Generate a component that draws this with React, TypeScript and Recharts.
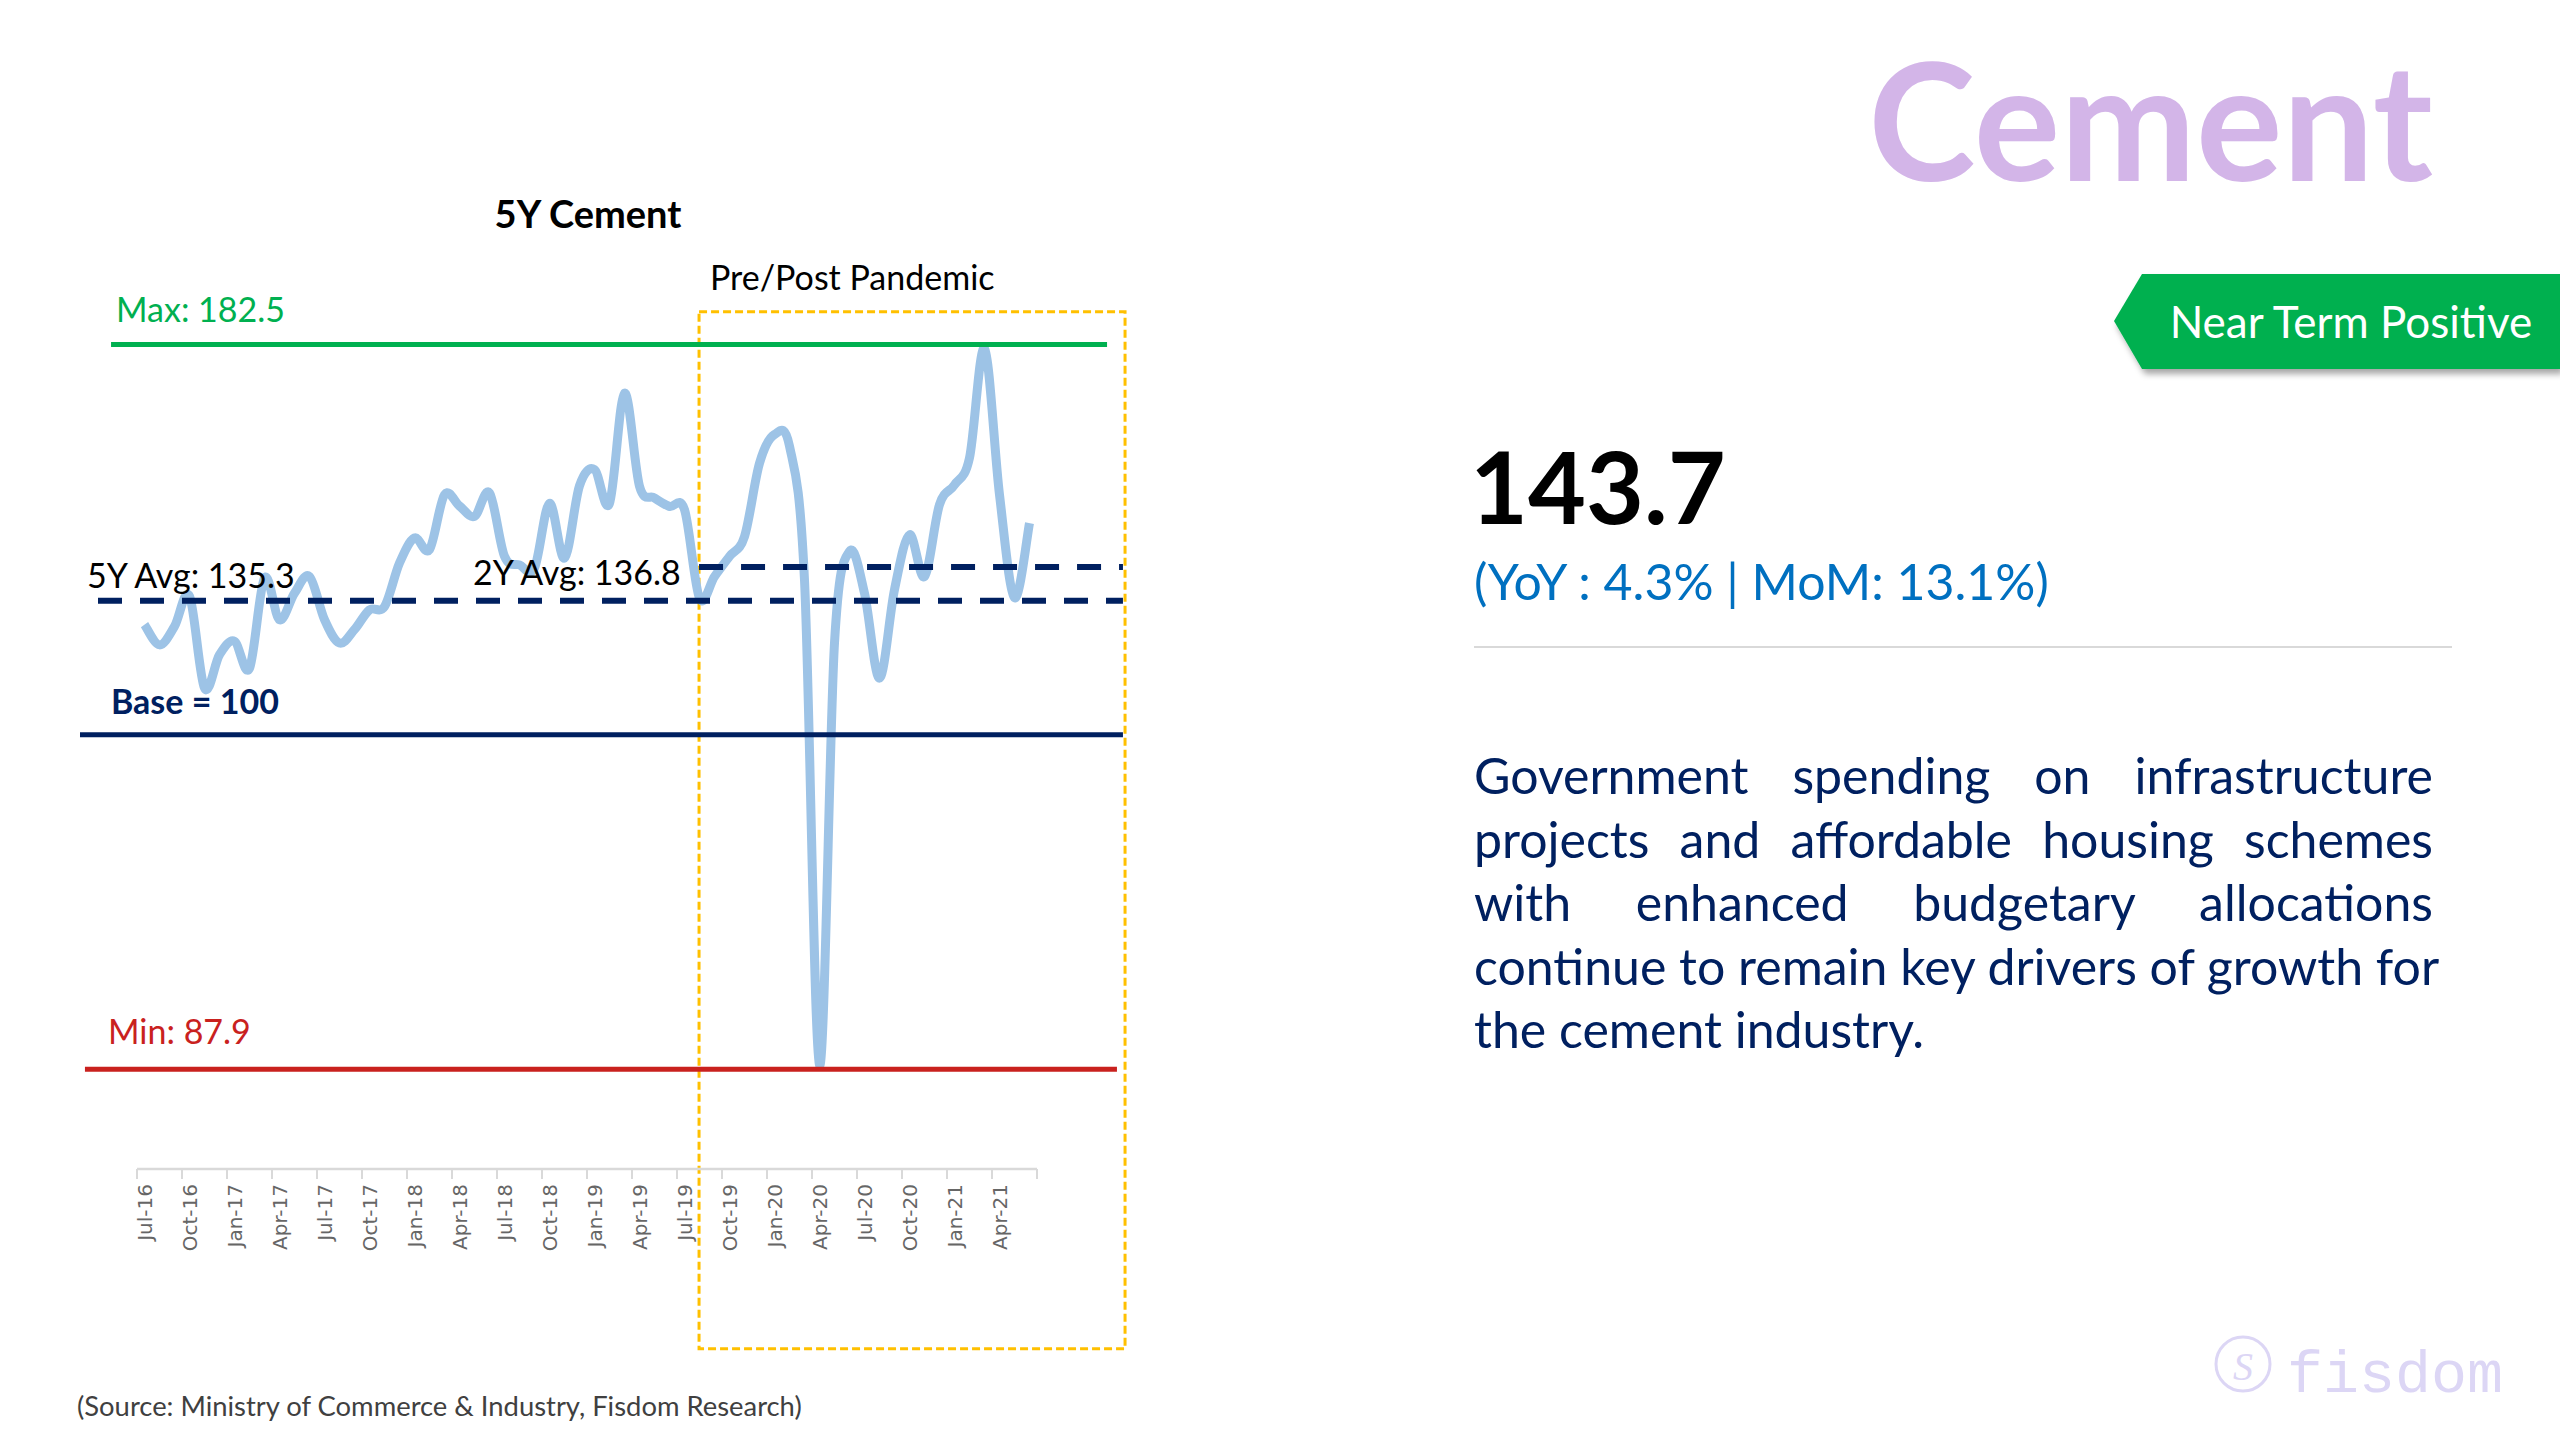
import React from "react";
import {
  LineChart,
  Line,
  XAxis,
  YAxis,
  ReferenceLine,
  ReferenceArea,
} from "recharts";

// monthly cement index (base 2011-12 = 100), Jul-16 .. Jun-21
const MONTHS = [
  "Jul-16", "Aug-16", "Sep-16", "Oct-16", "Nov-16", "Dec-16",
  "Jan-17", "Feb-17", "Mar-17", "Apr-17", "May-17", "Jun-17",
  "Jul-17", "Aug-17", "Sep-17", "Oct-17", "Nov-17", "Dec-17",
  "Jan-18", "Feb-18", "Mar-18", "Apr-18", "May-18", "Jun-18",
  "Jul-18", "Aug-18", "Sep-18", "Oct-18", "Nov-18", "Dec-18",
  "Jan-19", "Feb-19", "Mar-19", "Apr-19", "May-19", "Jun-19",
  "Jul-19", "Aug-19", "Sep-19", "Oct-19", "Nov-19", "Dec-19",
  "Jan-20", "Feb-20", "Mar-20", "Apr-20", "May-20", "Jun-20",
  "Jul-20", "Aug-20", "Sep-20", "Oct-20", "Nov-20", "Dec-20",
  "Jan-21", "Feb-21", "Mar-21", "Apr-21", "May-21", "Jun-21",
];

const CEMENT = [
  121.1, 116.6, 120.7, 127.4, 107.0, 114.4,
  117.4, 111.4, 131.5, 122.2, 128.1, 131.8,
  122.2, 117.0, 120.0, 124.4, 125.1, 134.8,
  140.4, 137.8, 150.0, 147.5, 145.2, 150.4,
  136.3, 134.4, 133.7, 148.1, 135.9, 152.0,
  155.6, 148.1, 172.6, 151.9, 149.3, 147.4,
  146.7, 127.0, 131.8, 136.3, 140.7, 157.0,
  163.4, 160.8, 131.0, 23.1, 117.0, 137.4,
  128.1, 109.2, 128.9, 141.1, 131.8, 147.8,
  152.2, 158.2, 182.5, 150.0, 127.1, 143.7,
];

const TICK_LABELS = [
  "Jul-16", "Oct-16", "Jan-17", "Apr-17", "Jul-17", "Oct-17", "Jan-18",
  "Apr-18", "Jul-18", "Oct-18", "Jan-19", "Apr-19", "Jul-19", "Oct-19",
  "Jan-20", "Apr-20", "Jul-20", "Oct-20", "Jan-21", "Apr-21",
];

// levels where the overlay lines sit on the slide
const LEVEL_MAX = 183.4;
const LEVEL_2Y = 133.9;
const LEVEL_5Y = 126.4;
const LEVEL_BASE = 96.6;
const LEVEL_MIN = 22.2;

const PARAGRAPH = [
  "Government spending on infrastructure",
  "projects and affordable housing schemes",
  "with enhanced budgetary allocations",
  "continue to remain key drivers of growth for",
  "the cement industry.",
];

const data = MONTHS.map((m, i) => ({ month: m, t: i + 0.5, value: CEMENT[i] }));
const TICKS = [...TICK_LABELS.map((l) => MONTHS.indexOf(l)), MONTHS.length];

const NAVY = "#002060";

// excel-like smoothed line (catmull-rom)
const smoothCurve = (context: any) => {
  let pts: number[][] = [];
  return {
    areaStart() {},
    areaEnd() {},
    lineStart() {
      pts = [];
    },
    point(x: number, y: number) {
      pts.push([+x, +y]);
    },
    lineEnd() {
      if (!pts.length) return;
      context.moveTo(pts[0][0], pts[0][1]);
      for (let i = 0; i < pts.length - 1; i++) {
        const p0 = pts[i - 1] || pts[i];
        const p1 = pts[i];
        const p2 = pts[i + 1];
        const p3 = pts[i + 2] || p2;
        context.bezierCurveTo(
          p1[0] + (p2[0] - p0[0]) / 6,
          p1[1] + (p2[1] - p0[1]) / 6,
          p2[0] - (p3[0] - p1[0]) / 6,
          p2[1] - (p3[1] - p1[1]) / 6,
          p2[0],
          p2[1]
        );
      }
    },
  };
};

const MonthTick = (props: any) => {
  const { x, y, payload } = props;
  const idx = TICKS.indexOf(payload.value);
  const label = idx >= 0 && idx < TICK_LABELS.length ? TICK_LABELS[idx] : "";
  return (
    <text
      x={0}
      y={0}
      transform={`translate(${x + 8},${y + 3}) rotate(-90)`}
      textAnchor="end"
      dominantBaseline="central"
      fill="#666666"
      fontSize={20}
      fontFamily="DejaVu Sans"
    >
      {label}
    </text>
  );
};

const abs = (left: number, top: number, extra: React.CSSProperties = {}) =>
  ({ position: "absolute", left, top, lineHeight: 1, whiteSpace: "nowrap", ...extra } as React.CSSProperties);

export default function App() {
  return (
    <div
      style={{
        position: "absolute",
        left: 0,
        top: 0,
        width: 2560,
        height: 1440,
        background: "#fff",
        overflow: "hidden",
        fontFamily: "Lato, sans-serif",
      }}
    >
      <div style={{ position: "absolute", left: 0, top: 0 }}>
        <LineChart
          width={1150}
          height={1400}
          data={data}
          margin={{ top: 270, right: 113, bottom: 151, left: 137 }}
        >
          <XAxis
            type="number"
            dataKey="t"
            domain={[0, 60]}
            ticks={TICKS}
            interval={0}
            height={80}
            tickSize={10}
            tick={<MonthTick />}
            axisLine={{ stroke: "#D9D9D9", strokeWidth: 2.5 }}
            tickLine={{ stroke: "#D9D9D9", strokeWidth: 2 }}
            allowDataOverflow
          />
          <YAxis hide type="number" domain={[0, 200]} allowDataOverflow />
          <Line
            type={smoothCurve as any}
            dataKey="value"
            stroke="#9DC3E6"
            strokeWidth={9}
            strokeLinejoin="round"
            dot={false}
            activeDot={false}
            isAnimationActive={false}
          />
          <ReferenceLine
            segment={[{ x: -1.73, y: LEVEL_MAX }, { x: 64.67, y: LEVEL_MAX }]}
            ifOverflow="visible"
            stroke="#00B050"
            strokeWidth={5}
          />
          <ReferenceLine
            segment={[{ x: 37.47, y: LEVEL_2Y }, { x: 65.73, y: LEVEL_2Y }]}
            ifOverflow="visible"
            stroke={NAVY}
            strokeWidth={6}
            strokeDasharray="24 18"
          />
          <ReferenceLine
            segment={[{ x: -2.6, y: LEVEL_5Y }, { x: 65.73, y: LEVEL_5Y }]}
            ifOverflow="visible"
            stroke={NAVY}
            strokeWidth={6}
            strokeDasharray="24 18"
          />
          <ReferenceLine
            segment={[{ x: -3.8, y: LEVEL_BASE }, { x: 65.73, y: LEVEL_BASE }]}
            ifOverflow="visible"
            stroke={NAVY}
            strokeWidth={5}
          />
          <ReferenceLine
            segment={[{ x: -3.47, y: LEVEL_MIN }, { x: 65.33, y: LEVEL_MIN }]}
            ifOverflow="visible"
            stroke="#C9211E"
            strokeWidth={5}
          />
          <ReferenceArea
            x1={37.47}
            x2={65.87}
            y1={-40}
            y2={190.7}
            ifOverflow="visible"
            fill="none"
            stroke="#FFC000"
            strokeWidth={3}
            strokeDasharray="8 4"
          />
        </LineChart>
      </div>

      {/* chart annotations */}
      <div style={abs(388, 194, { width: 400, textAlign: "center", fontSize: 38, fontWeight: 700, color: "#000" })}>
        5Y Cement
      </div>
      <div style={abs(710, 260, { fontSize: 34, color: "#000" })}>Pre/Post Pandemic</div>
      <div style={abs(116, 292, { fontSize: 34, color: "#00B050" })}>Max: 182.5</div>
      <div style={abs(87, 558, { fontSize: 34, color: "#000" })}>5Y Avg: 135.3</div>
      <div style={abs(473, 555, { fontSize: 34, color: "#000" })}>2Y Avg: 136.8</div>
      <div style={abs(111, 684, { fontSize: 34, fontWeight: 700, color: NAVY })}>Base = 100</div>
      <div style={abs(108, 1014, { fontSize: 34, color: "#C9211E" })}>Min: 87.9</div>
      <div style={abs(77, 1392, { fontSize: 27.4, color: "#404040" })}>
        (Source: Ministry of Commerce &amp; Industry, Fisdom Research)
      </div>

      {/* right panel */}
      <div
        style={{
          position: "absolute",
          right: 127,
          top: 38,
          lineHeight: 1,
          fontSize: 162,
          fontWeight: 700,
          color: "#D3B5E8",
        }}
      >
        Cement
      </div>

      <svg style={{ position: "absolute", left: 2100, top: 264 }} width={460} height={120}>
        <defs>
          <filter id="tagShadow" x="-10%" y="-20%" width="130%" height="160%">
            <feDropShadow dx="3" dy="5" stdDeviation="3" floodColor="#000" floodOpacity="0.35" />
          </filter>
        </defs>
        <polygon
          points="14,57 42,10 460,10 460,105 42,105"
          fill="#00B050"
          filter="url(#tagShadow)"
        />
      </svg>
      <div style={abs(2142, 299, { width: 418, textAlign: "center", fontSize: 44, color: "#fff" })}>
        Near Term Positive
      </div>

      <div style={abs(1470, 435, { fontSize: 100, fontWeight: 700, color: "#000" })}>143.7</div>
      <div style={abs(1474, 556, { fontSize: 50, color: "#0070C0" })}>
        (YoY : 4.3% | MoM: 13.1%)
      </div>
      <div style={{ position: "absolute", left: 1474, top: 646, width: 978, height: 2, background: "#D9D9D9" }} />

      <div style={{ position: "absolute", left: 1474, top: 743, width: 959, fontSize: 50, color: NAVY }}>
        {PARAGRAPH.map((line, i) => (
          <div
            key={i}
            style={{
              height: 63.6,
              lineHeight: "64px",
              whiteSpace: "nowrap",
              textAlign: i < PARAGRAPH.length - 1 ? "justify" : "left",
              textAlignLast: i < PARAGRAPH.length - 1 ? "justify" : "left",
            }}
          >
            {line}
          </div>
        ))}
      </div>

      {/* logo */}
      <svg style={{ position: "absolute", left: 2210, top: 1330 }} width={70} height={70}>
        <circle cx={33} cy={34} r={27} fill="none" stroke="#DCD6F5" strokeWidth={3} />
        <text x={33} y={36} textAnchor="middle" dominantBaseline="central" fontSize={40} fontStyle="italic" fontFamily="Liberation Serif" fill="#DCD6F5">
          S
        </text>
      </svg>
      <div style={abs(2287, 1346, { fontSize: 60, fontFamily: "Liberation Mono", color: "#DCD6F5" })}>fisdom</div>
    </div>
  );
}
